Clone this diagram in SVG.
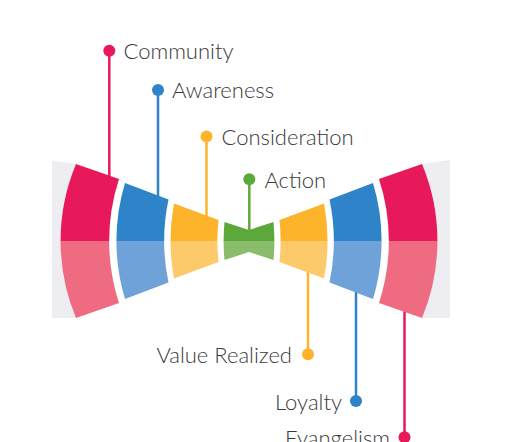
<svg xmlns="http://www.w3.org/2000/svg" width="531" height="442" viewBox="0 0 531 442">
<style>
.lbl{font-family:Lato,"Noto Sans","Liberation Sans",sans-serif;font-weight:300;font-size:22px;fill:#3a3a3a}
.end{text-anchor:end}
.ln{fill:none;stroke-width:2.5}
.red{fill:#e8195a}.redL{fill:#ef6b81}
.blue{fill:#2f84c9}.blueL{fill:#6fa2d9}
.yel{fill:#fdb42b}.yelL{fill:#fdca6b}
.grn{fill:#5da83b}.grnL{fill:#89bd6b}
.bg{fill:#eeeef2}
</style>
<rect width="531" height="442" fill="#ffffff"/>
<g id="background">
<path class="bg" d="M52,160.5 L76,164 L76,318 L52,318 Z"/>
<path class="bg" d="M450,160 L422,164 L422,318 L450,318 Z"/>
</g>
<g id="connectors">
<line class="ln" stroke="#e8195a" x1="109.3" y1="50.7" x2="109.3" y2="180"/>
<line class="ln" stroke="#2f84c9" x1="158" y1="90" x2="158" y2="200"/>
<line class="ln" stroke="#fdb42b" x1="206.5" y1="136.5" x2="206.5" y2="220"/>
<line class="ln" stroke="#5da83b" x1="249.3" y1="179.3" x2="249.3" y2="234"/>
<line class="ln" stroke="#fdb42b" x1="308" y1="354.3" x2="308" y2="268"/>
<line class="ln" stroke="#2f84c9" x1="356" y1="401" x2="356" y2="288"/>
<line class="ln" stroke="#e8195a" x1="404.5" y1="437.3" x2="404.5" y2="308"/>
</g>
<g id="community">
<path class="red" d="M76,164 L119,179 A200,200 0 0 0 109.15,241 L60.58,241 A200,200 0 0 1 76,164 Z"/>
<path class="redL" d="M60.58,241 L109.15,241 A200,200 0 0 0 119,303 L76,318 A200,200 0 0 1 60.58,241 Z"/>
<circle class="red" cx="109.3" cy="50.7" r="6"/>
<text class="lbl" x="123.5" y="59.3">Community</text>
</g>
<g id="awareness">
<path class="blue" d="M125,183 L168.5,199.5 A200,200 0 0 0 164.15,241 L116.41,241 A200,200 0 0 1 125,183 Z"/>
<path class="blueL" d="M116.41,241 L164.15,241 A200,200 0 0 0 168.5,282.5 L125,299 A200,200 0 0 1 116.41,241 Z"/>
<circle class="blue" cx="158" cy="90" r="6"/>
<text class="lbl" x="172" y="98.4">Awareness</text>
</g>
<g id="consideration">
<path class="yel" d="M174,203.5 L218.5,220 A200,200 0 0 0 217.39,241 L170.45,241 A200,200 0 0 1 174,203.5 Z"/>
<path class="yelL" d="M170.45,241 L217.39,241 A200,200 0 0 0 218.5,262 L174,278.5 A200,200 0 0 1 170.45,241 Z"/>
<circle class="yel" cx="206.5" cy="136.5" r="6"/>
<text class="lbl" x="221.5" y="145">Consideration</text>
</g>
<g id="action">
<path class="grn" d="M224.5,222 L249,230 L273.5,222 A200,200 0 0 1 274.41,241 L223.59,241 A200,200 0 0 1 224.5,222 Z"/>
<path class="grnL" d="M223.59,241 L274.41,241 A200,200 0 0 1 273.5,260 L249,252 L224.5,260 A200,200 0 0 1 223.59,241 Z"/>
<circle class="grn" cx="249.3" cy="179.3" r="6"/>
<text class="lbl" x="264.5" y="187.7">Action</text>
</g>
<g id="value-realized">
<path class="yel" d="M324,203.5 L279.5,220 A200,200 0 0 1 280.61,241 L327.55,241 A200,200 0 0 0 324,203.5 Z"/>
<path class="yelL" d="M327.55,241 L280.61,241 A200,200 0 0 1 279.5,262 L324,278.5 A200,200 0 0 0 327.55,241 Z"/>
<circle class="yel" cx="308" cy="354.3" r="6"/>
<text class="lbl end" x="292" y="362.5">Value Realized</text>
</g>
<g id="loyalty">
<path class="blue" d="M373,183 L329.5,199.5 A200,200 0 0 1 333.85,241 L381.59,241 A200,200 0 0 0 373,183 Z"/>
<path class="blueL" d="M381.59,241 L333.85,241 A200,200 0 0 1 329.5,282.5 L373,299 A200,200 0 0 0 381.59,241 Z"/>
<circle class="blue" cx="356" cy="401" r="6"/>
<text class="lbl end" x="342" y="410">Loyalty</text>
</g>
<g id="evangelism">
<path class="red" d="M422,164 L379,179 A200,200 0 0 1 388.85,241 L437.42,241 A200,200 0 0 0 422,164 Z"/>
<path class="redL" d="M437.42,241 L388.85,241 A200,200 0 0 1 379,303 L422,318 A200,200 0 0 0 437.42,241 Z"/>
<circle class="red" cx="404.5" cy="437.3" r="6"/>
<text class="lbl end" x="390" y="446">Evangelism</text>
</g>
</svg>
